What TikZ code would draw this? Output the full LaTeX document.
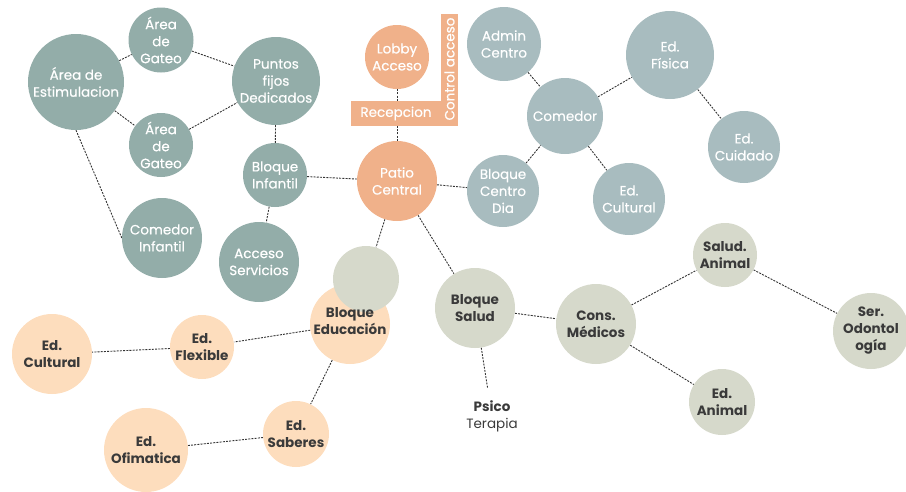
\documentclass[tikz,border=0pt]{standalone}
\usepackage{fontspec}
\setmainfont{Poppins}
\newfontfamily\medfont[FakeBold=0.5]{Poppins}
\usetikzlibrary{backgrounds,calc}
\definecolor{tealL}{HTML}{93ADA9}
\definecolor{tealR}{HTML}{A8BCBF}
\definecolor{orng}{HTML}{F0B18A}
\definecolor{peach}{HTML}{FDDDBD}
\definecolor{sage}{HTML}{D6D9CB}
\definecolor{ink}{HTML}{3A3A3A}
\definecolor{lnk}{HTML}{333333}
\tikzset{
  bub/.style={circle,inner sep=0pt,minimum size=#1,align=center,
    font=\medfont\fontsize{13.5}{17}\selectfont},
  lt/.style={bub=#1,fill=tealL,text=white},
  rt/.style={bub=#1,fill=tealR,text=white},
  og/.style={bub=#1,fill=orng,text=white},
  pc/.style={bub=#1,fill=peach,text=ink,font=\fontsize{13.5}{17}\selectfont\bfseries},
  sg/.style={bub=#1,fill=sage,text=ink,font=\fontsize{13.5}{17}\selectfont\bfseries},
  lnkline/.style={draw=lnk,line width=0.9pt,dash pattern=on 2pt off 1.2pt},
  bar/.style={fill=orng,inner sep=0pt,text=white,font=\medfont\fontsize{13.5}{15}\selectfont}
}
\begin{document}
\begin{tikzpicture}[x=1pt,y=-1pt]
\useasboundingbox (0,0) rectangle (906,491);
% left teal group
\node[lt=96pt] (estim) at (76,82) {Área de\\Estimulacion};
\node[lt=65pt] (gateoA) at (161,40) {Área\\de\\Gateo};
\node[lt=64pt] (gateoB) at (161,145) {Área\\de\\Gateo};
\node[lt=88pt] (puntos) at (276,81) {Puntos\\fijos\\Dedicados};
\node[lt=64pt] (binf) at (275,175) {Bloque\\Infantil};
\node[lt=80pt] (cominf) at (162,238) {Comedor\\Infantil};
\node[lt=80pt] (acceso) at (259,262) {Acceso\\Servicios};
% orange
\node[og=64pt] (lobby) at (397,57) {Lobby\\Acceso};
\node[og=80pt] (patio) at (397,181) {Patio\\Central};
\node[bar,minimum width=90pt,minimum height=25pt] (rec) at (396,113.5) {Recepcion};
\node[bar,minimum width=17pt,minimum height=112pt] (ctrl) at (449.5,70) {};
\node[text=white,font=\medfont\fontsize{13.5}{15}\selectfont,rotate=90,inner sep=0pt] (ctrltxt) at (449.5,69) {Control acceso};
% right teal
\node[rt=74pt] (admin) at (504,44) {Admin\\Centro};
\node[rt=76pt] (comedor) at (565,116) {Comedor};
\node[rt=72pt] (bcd) at (503,191) {Bloque\\Centro\\Dia};
\node[rt=88pt] (fisica) at (670,55) {Ed.\\Física};
\node[rt=72pt] (cuidado) at (744,147) {Ed.\\Cuidado};
\node[rt=72pt] (cultR) at (629,199) {Ed.\\Cultural};
% peach group
\node[pc=80pt] (bedu) at (350,324) {};
\node[sg=66pt] (blank) at (366,279) {};
\node[text=ink,align=center,inner sep=0pt,font=\fontsize{13.5}{17}\selectfont\bfseries] (bedutxt) at (350,321) {Bloque\\Educación};
\node[pc=64pt] (flex) at (202,347) {Ed.\\Flexible};
\node[pc=80pt] (cultP) at (52,354) {Ed.\\Cultural};
\node[pc=66pt] (saberes) at (296,434) {Ed.\\Saberes};
\node[pc=84pt] (ofi) at (146,450) {Ed.\\Ofimatica};
% sage group
\node[sg=80pt] (bsalud) at (475,308) {Bloque\\Salud};
\node[sg=80pt] (cons) at (596,324) {Cons.\\Médicos};
\node[sg=64pt] (sanimal) at (725,255) {Salud.\\Animal};
\node[sg=76pt] (odon) at (871,331) {Ser.\\Odontol\\ogía};
\node[sg=66pt] (eanimal) at (722,402) {Ed.\\Animal};
\node[text=ink,align=center,inner sep=2pt,font=\fontsize{13.5}{17}\selectfont] (psico) at (492,416) {\textbf{Psico}\\Terapia};
% connectors
\begin{scope}[on background layer]
\draw[lnkline] (estim) -- (gateoA);
\draw[lnkline] (gateoA) -- (puntos);
\draw[lnkline] (estim) -- (gateoB);
\draw[lnkline] (gateoB) -- (puntos);
\draw[lnkline] (estim.south) -- (cominf.west);
\draw[lnkline] (puntos) -- (binf);
\draw[lnkline] (binf) -- (acceso);
\draw[lnkline] (binf) -- (patio);
\draw[lnkline] (lobby.south) -- (lobby.south |- rec.north);
\draw[lnkline] (patio.north) -- (patio.north |- rec.south);
\draw[lnkline] (patio) -- (bcd);
\draw[lnkline] (bcd) -- (comedor);
\draw[lnkline] (admin) -- (comedor);
\draw[lnkline] (comedor) -- (fisica);
\draw[lnkline] (comedor) -- (cultR);
\draw[lnkline] (fisica) -- (cuidado);
\draw[lnkline] (patio) -- (blank);
\draw[lnkline] (patio) -- (bsalud);
\draw[lnkline] (bedu) -- (flex);
\draw[lnkline] (flex) -- (cultP);
\draw[lnkline] (bedu) -- (saberes);
\draw[lnkline] (saberes) -- (ofi);
\draw[lnkline] (bsalud) -- (cons);
\draw[lnkline,shorten >=10pt] (bsalud) -- (psico);
\draw[lnkline] (cons) -- (sanimal);
\draw[lnkline] (cons) -- (eanimal);
\draw[lnkline] (sanimal) -- (odon);
\end{scope}
\end{tikzpicture}
\end{document}
